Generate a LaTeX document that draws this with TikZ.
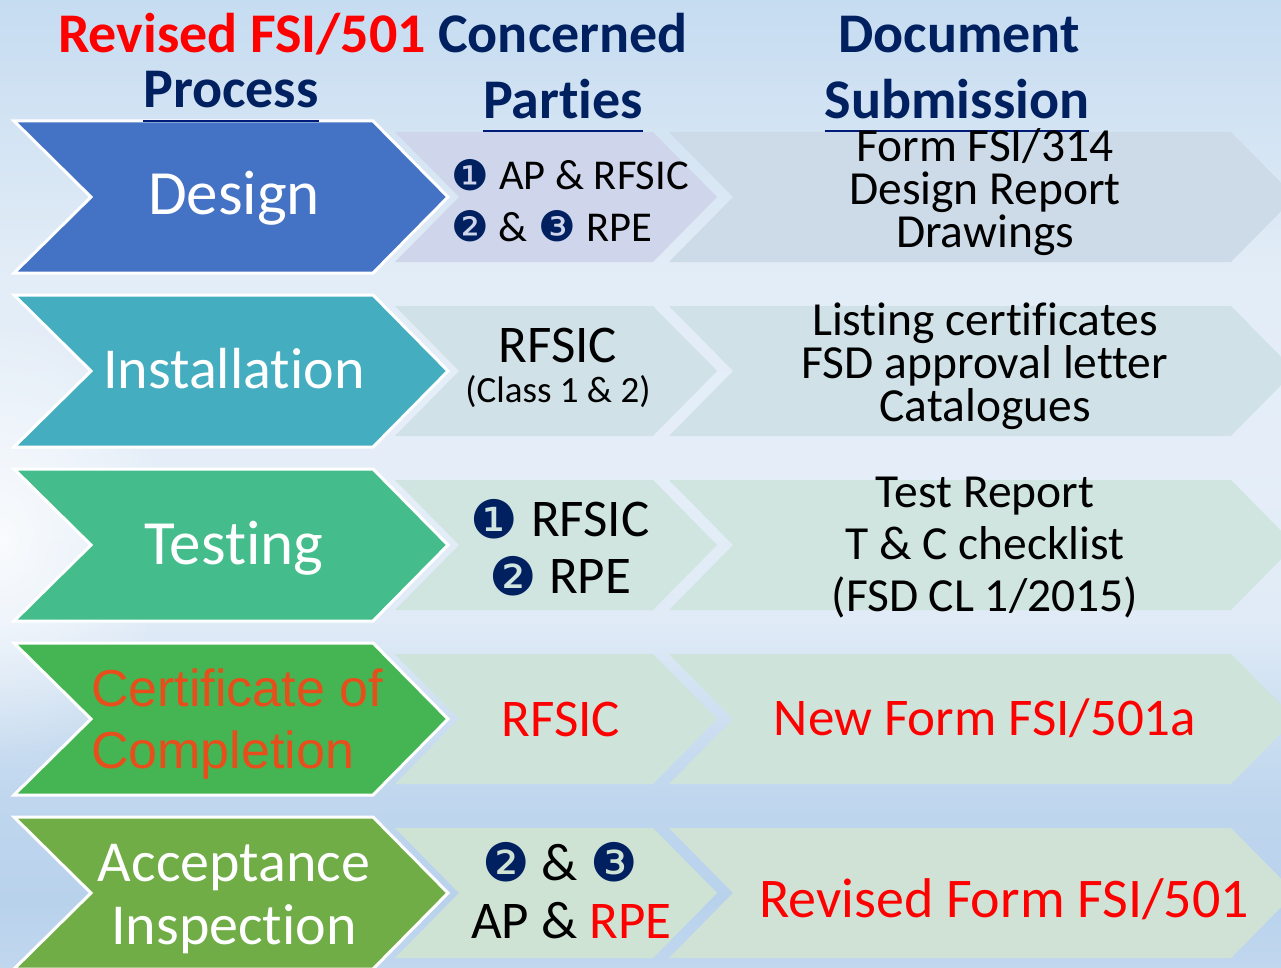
\documentclass[tikz,border=0pt]{standalone}
\usepackage{fontspec}
\setmainfont[Ligatures=NoCommon]{Carlito}
\newfontfamily\arialfont{Liberation Sans}
\newfontfamily\dingfont{DejaVu Sans}
\usetikzlibrary{fadings}
\tikzfading[name=glowfade, inner color=transparent!0, outer color=transparent!100]
\definecolor{navyhead}{HTML}{002060}
\definecolor{certred}{HTML}{E84E1B}
\definecolor{backa}{HTML}{C6DCF1}
\definecolor{backb}{HTML}{D2E3F3}
\definecolor{backc}{HTML}{E3EDF7}
\definecolor{backd}{HTML}{E5EEF8}
\definecolor{backe}{HTML}{E0EBF7}
\definecolor{backf}{HTML}{D0E1F2}
\definecolor{backg}{HTML}{BFD6EE}
\definecolor{backh}{HTML}{B9D2EC}
\definecolor{backi}{HTML}{C0D7EE}
\pgfdeclareverticalshading{backdrop}{100bp}{
  color(0bp)=(backi);
  color(25bp)=(backi);
  color(28.5bp)=(backh);
  color(33.7bp)=(backg);
  color(38.8bp)=(backf);
  color(43bp)=(backe);
  color(51.2bp)=(backd);
  color(60.5bp)=(backc);
  color(68.8bp)=(backb);
  color(75bp)=(backa);
  color(100bp)=(backa)}
\tikzset{
  procarrow/.style={draw=white, line width=3pt, line join=miter},
  softarrow/.style={draw=none},
  rowtext/.style={font=\fontsize{#1}{#1}\selectfont, text=black, inner sep=0pt, anchor=base},
  rowtext/.default=47,
  proctext/.style={font=\fontsize{#1}{#1}\selectfont, text=white, inner sep=0pt, anchor=base},
  headtext/.style={font=\fontsize{56}{56}\selectfont\bfseries, text=navyhead, inner sep=0pt, anchor=base},
  headrule/.style={draw=navyhead!85!blue, line width=1.5pt},
  bullet/.style={font=\dingfont\fontsize{#1}{#1}\selectfont, text=navyhead, inner sep=0pt, anchor=base},
}
\begin{document}
\begin{tikzpicture}[x=1pt,y=-1pt]
\useasboundingbox (0,0) rectangle (1281,968);
\clip (0,0) rectangle (1281,968);
\shade[shading=backdrop] (0,0) rectangle (1281,968);
\fill[white, path fading=glowfade, opacity=.8] (0,540) ellipse (170 and 220);
% chevrons, one row at a time
\foreach \rowy/\proccol/\midcol/\rightcol in {
  0/4472C4/CFD5EA/CDDBE8,
  174/44ADC0/D0E1E8/D0E2E7,
  348/44BC8C/D0E5DF/D0E5DF,
  522/44B552/CEE3D9/CEE3D9,
  696/70AD47/CFE3D5/D0E2D5}{
  \definecolor{proccol}{HTML}{\proccol}
  \definecolor{midcol}{HTML}{\midcol}
  \definecolor{rightcol}{HTML}{\rightcol}
  \fill[softarrow, fill=rightcol] (669,132+\rowy) -- (1231,132+\rowy) -- (1295,197+\rowy) -- (1231,262+\rowy) -- (669,262+\rowy) -- (733,197+\rowy) -- cycle;
  \fill[softarrow, fill=midcol] (395,132+\rowy) -- (653,132+\rowy) -- (717,197+\rowy) -- (653,262+\rowy) -- (395,262+\rowy) -- (459,197+\rowy) -- cycle;
  \draw[procarrow, fill=proccol] (14,121+\rowy) -- (373,121+\rowy) -- (448,197+\rowy) -- (373,273+\rowy) -- (14,273+\rowy) -- (91,197+\rowy) -- cycle;
}
% headers
\node[headtext, text=red] (revised) at (242,53) {Revised FSI/501};
\node[headtext] (process) at (231,108) {Process};
\node[headtext] (concerned) at (563,53) {Concerned};
\node[headtext] (parties) at (563,119) {Parties};
\node[headtext] (document) at (959,53) {Document};
\node[headtext] (submission) at (957,119) {Submission};
\draw[headrule, line width=2.5pt] ([yshift=-13pt]process.base west) -- ([yshift=-13pt]process.base east);
\draw[headrule] ([yshift=-12pt]parties.base west) -- ([yshift=-12pt]parties.base east);
\draw[headrule] ([yshift=-12pt]submission.base west) -- ([yshift=-12pt]submission.base east);
% process column
\node[proctext=63] (design) at (234,215) {Design};
\node[proctext=58] (installation) at (234,388) {Installation};
\node[proctext=63] (testing) at (234,564) {Testing};
\node[font=\arialfont\fontsize{52}{52}\selectfont, text=certred, inner sep=0pt, anchor=base west] (certificate) at (91,706) {Certificate of};
\node[font=\arialfont\fontsize{52}{52}\selectfont, text=certred, inner sep=0pt, anchor=base west] (completion) at (91,768) {Completion};
\node[proctext=58] (acceptance) at (234,881) {Acceptance};
\node[proctext=58] (inspection) at (234,944) {Inspection};
% parties column
\node[bullet=42] (onea) at (470,191) {❶};
\node[rowtext=42.5, anchor=base west] (aprfsic) at (499,190) {AP \& RFSIC};
\node[bullet=42] (twoa) at (470,241) {❷};
\node[rowtext=42.5] (anda) at (513,241) {\&};
\node[bullet=42] (threea) at (557,241) {❸};
\node[rowtext=42.5, anchor=base west] (rpea) at (586,241) {RPE};
\node[rowtext=53] (rfsicb) at (558,362) {RFSIC};
\node[rowtext=37] (classb) at (558,402) {(Class 1 \& 2)};
\node[bullet=53] (onec) at (494,538) {❶};
\node[rowtext=53, anchor=base west] (rfsicc) at (531,536) {RFSIC};
\node[bullet=53] (twoc) at (513,595) {❷};
\node[rowtext=53, anchor=base west] (rpec) at (549,593) {RPE};
\node[rowtext=53, text=red] (rfsicd) at (561,736) {RFSIC};
\node[bullet=53] (twoe) at (506,881) {❷};
\node[rowtext=53] (ande) at (560,880) {\&};
\node[bullet=53] (threee) at (614,881) {❸};
\node[rowtext=53, anchor=base west] (ape) at (471,938) {AP \& \textcolor{red}{RPE}};
% document column
\node[rowtext, align=center, font=\fontsize{47.5}{43}\selectfont, anchor=center] (docsa) at (985,192) {Form FSI/314\\Design Report\\Drawings};
\node[rowtext, align=center, font=\fontsize{47.5}{43}\selectfont, anchor=center] (docsb) at (985,366) {Listing certificates\\FSD approval letter\\Catalogues};
\node[rowtext, align=center, font=\fontsize{47.5}{52}\selectfont, anchor=center] (docsc) at (985,548) {Test Report\\T \& C checklist\\(FSD CL 1/2015)};
\node[rowtext=53, text=red] (docsd) at (985,735) {New Form FSI/501a};
\node[rowtext=56, text=red] (docse) at (1004,917) {Revised Form FSI/501};
\end{tikzpicture}
\end{document}
